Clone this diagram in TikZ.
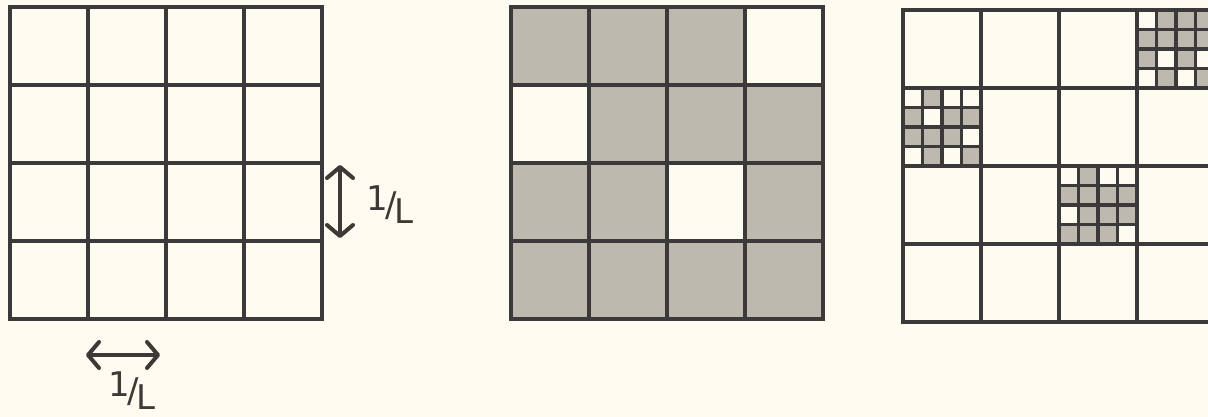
\documentclass[tikz,border=0pt]{standalone}
\usepackage{fontspec}
\setmainfont{DejaVu Sans}
\usetikzlibrary{arrows.meta}
\definecolor{bg}{HTML}{FEFCF0}
\definecolor{ink}{HTML}{3B393A}
\definecolor{shade}{HTML}{BDB9AF}
\definecolor{arr}{HTML}{3E3936}
\tikzset{
  grid/.style={draw=ink, line width=4.6pt, line cap=rect},
  subgrid/.style={draw=ink, line width=3.4pt},
  cellfill/.style={fill=shade},
  measure/.style={draw=arr, line width=4pt, line cap=round,
    {Straight Barb[length=11pt,width=26pt,line width=4pt,round]}-{Straight Barb[length=11pt,width=26pt,line width=4pt,round]}},
  lbl/.style={text=arr, font=\fontsize{34}{34}\selectfont, inner sep=0pt}
}
\newcommand{\lenlabel}{\raisebox{0.3ex}{1}\kern-0.08em/\kern-0.08em\raisebox{-0.4ex}{L}}
\begin{document}
\begin{tikzpicture}[x=1pt,y=-1pt]
\fill[bg] (0,0) rectangle (1208,417);
\useasboundingbox (0,0) rectangle (1208,417);
\clip (0,0) rectangle (1208,417);
% ---------- panel 1 ----------
\foreach \i in {0,...,4} {
  \draw[grid] (10+\i*78,7) -- (10+\i*78,319);
  \draw[grid] (10,7+\i*78) -- (322,7+\i*78);
}
% arrows
\coordinate (v1) at (340,165);
\coordinate (v2) at (340,238);
\draw[measure] (v1) -- (v2);
\node[lbl] (lv) at (390,205) {\lenlabel};
\coordinate (h1) at (86,355);
\coordinate (h2) at (160,355);
\draw[measure] (h1) -- (h2);
\node[lbl] (lh) at (132,391) {\lenlabel};
% ---------- panel 2 ----------
\foreach \r/\c in {0/0,0/1,0/2, 1/1,1/2,1/3, 2/0,2/1,2/3, 3/0,3/1,3/2,3/3} {
  \fill[cellfill] (511+\c*78,7+\r*78) rectangle (511+\c*78+78,7+\r*78+78);
}
\foreach \i in {0,...,4} {
  \draw[grid] (511+\i*78,7) -- (511+\i*78,319);
  \draw[grid] (511,7+\i*78) -- (823,7+\i*78);
}
% ---------- panel 3 ----------
% subgrid in cell (row 0, col 3): origin (1137,10)
\foreach \r/\c in {0/1,0/2,0/3, 1/0,1/1,1/2,1/3, 2/0,2/2, 3/1,3/3} {
  \fill[cellfill] (1137+\c*19.5,10+\r*19.5) rectangle ++(19.5,19.5);
}
\foreach \k in {1,2,3} {
  \draw[subgrid] (1137+\k*19.5,10) -- (1137+\k*19.5,88);
  \draw[subgrid] (1137,10+\k*19.5) -- (1215,10+\k*19.5);
}
% subgrid in cell (row 1, col 0): origin (903,88)
\foreach \r/\c in {0/1, 1/0,1/2,1/3, 2/0,2/1,2/2, 3/1,3/3} {
  \fill[cellfill] (903+\c*19.5,88+\r*19.5) rectangle ++(19.5,19.5);
}
\foreach \k in {1,2,3} {
  \draw[subgrid] (903+\k*19.5,88) -- (903+\k*19.5,166);
  \draw[subgrid] (903,88+\k*19.5) -- (981,88+\k*19.5);
}
% subgrid in cell (row 2, col 2): origin (1059,166)
\foreach \r/\c in {0/1, 1/0,1/1,1/2,1/3, 2/1,2/2,2/3, 3/0,3/1,3/2} {
  \fill[cellfill] (1059+\c*19.5,166+\r*19.5) rectangle ++(19.5,19.5);
}
\foreach \k in {1,2,3} {
  \draw[subgrid] (1059+\k*19.5,166) -- (1059+\k*19.5,244);
  \draw[subgrid] (1059,166+\k*19.5) -- (1137,166+\k*19.5);
}
\foreach \i in {0,...,4} {
  \draw[grid] (903+\i*78,10) -- (903+\i*78,322);
  \draw[grid] (903,10+\i*78) -- (1215,10+\i*78);
}
\end{tikzpicture}
\end{document}
